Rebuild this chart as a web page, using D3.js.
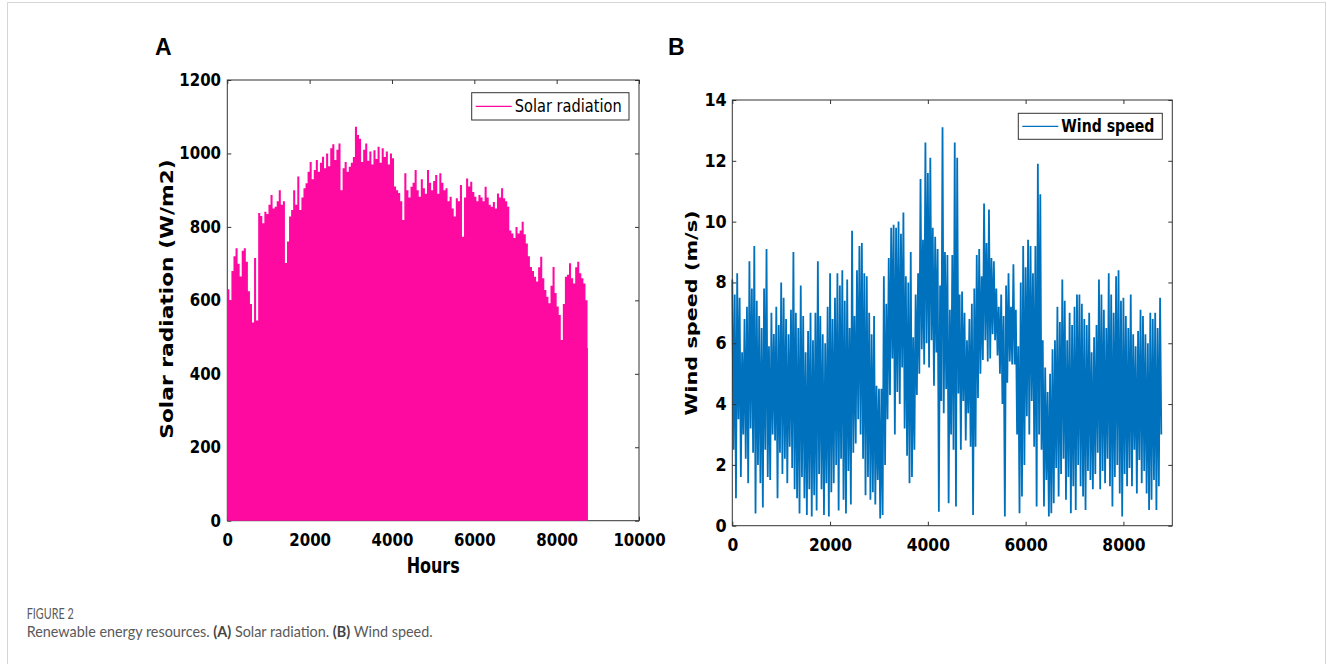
<!DOCTYPE html>
<html>
<head>
<meta charset="utf-8">
<script src="https://cdn.jsdelivr.net/npm/d3@7"></script>
<style>
    body { margin: 0; background: #fff; }
</style>
</head>
<body>
<svg id="fig" width="1327" height="664"></svg>
<script>
// hourly series, one value every 50 hours
var sampleStep = 50;
var solarEnd = 8760;

var solarValues = [
    630, 600, 680, 720, 742, 700, 665, 735, 742, 705,
    625, 590, 540, 715, 545, 838, 830, 810, 841, 835,
    860, 887, 850, 855, 870, 900, 860, 870, 702, 760,
    828, 846, 900, 860, 937, 846, 880, 905, 919, 950,
    977, 930, 955, 982, 950, 975, 991, 960, 1000, 965,
    1014, 1025, 982, 1010, 1027, 900, 960, 977, 950, 964,
    975, 990, 1073, 1050, 1040, 977, 1010, 1027, 980, 1005,
    970, 1009, 985, 1018, 975, 1014, 990, 1005, 970, 1000,
    987, 910, 900, 892, 870, 819, 946, 900, 880, 909,
    920, 955, 900, 882, 930, 905, 890, 955, 920, 900,
    925, 941, 890, 946, 920, 900, 905, 870, 882, 850,
    828, 878, 870, 914, 773, 880, 932, 910, 923, 895,
    882, 870, 887, 880, 870, 909, 880, 860, 855, 868,
    850, 891, 880, 905, 878, 870, 855, 790, 782, 770,
    800, 782, 790, 814, 780, 755, 720, 691, 680, 664,
    651, 690, 719, 660, 628, 610, 592, 640, 691, 620,
    583, 560, 492, 590, 664, 670, 701, 660, 646, 690,
    705, 674, 660, 646, 600, 470
];

// wind speed: highest and lowest reading inside each 50 hour block
var windHigh = [
    8.1, 7.6, 8.3, 7.5, 5.7, 6.8, 7.2, 8.7, 7.8, 9.2,
    7.4, 6.9, 6.5, 7.8, 9.1, 5.9, 7.0, 6.3, 7.2, 6.6,
    8.0, 7.5, 6.8, 6.3, 7.1, 9.0, 7.0, 6.5, 7.9, 6.9,
    5.7, 6.4, 7.0, 6.1, 7.0, 8.7, 6.9, 6.3, 6.0, 7.2,
    8.3, 6.8, 7.5, 8.3, 7.9, 8.4, 7.4, 8.1, 6.5, 9.7,
    6.9, 8.4, 9.2, 9.3, 8.3, 8.2, 7.0, 6.3, 6.9, 4.6,
    4.5, 4.5, 8.2, 7.3, 8.8, 9.8, 9.9, 9.8, 10.0, 9.6,
    10.3, 8.2, 8.0, 9.0, 6.2, 7.6, 8.3, 11.4, 9.4, 12.6,
    11.6, 12.1, 9.8, 9.5, 9.1, 7.9, 13.1, 9.0, 8.9, 7.1,
    8.9, 12.6, 12.1, 7.6, 7.7, 7.0, 6.1, 6.8, 7.3, 7.8,
    8.9, 9.1, 8.2, 10.6, 9.3, 10.4, 8.8, 8.7, 7.8, 7.2,
    7.6, 6.9, 7.9, 8.3, 7.2, 8.6, 7.1, 5.9, 8.0, 9.2,
    8.5, 9.4, 9.2, 8.3, 9.2, 11.9, 10.9, 6.1, 5.2, 4.4,
    5.0, 5.8, 6.1, 7.2, 6.7, 8.1, 7.4, 6.1, 7.0, 6.6,
    7.2, 7.6, 7.6, 7.3, 6.8, 6.6, 7.0, 5.7, 6.2, 6.6,
    8.1, 7.6, 7.1, 6.5, 8.3, 7.6, 7.0, 8.2, 8.4, 7.4,
    7.5, 6.9, 6.5, 7.6, 6.3, 5.9, 6.4, 7.1, 6.9, 6.3,
    6.0, 7.0, 6.8, 7.0, 6.5, 7.5
];

var windLow = [
    2.5, 0.9, 3.5, 1.6, 3.0, 2.2, 1.4, 3.2, 2.4, 0.4,
    2.0, 1.4, 0.6, 2.5, 1.6, 1.5, 3.0, 2.8, 0.9, 2.4,
    1.7, 2.2, 1.4, 2.6, 1.9, 1.2, 0.9, 0.4, 1.6, 0.9,
    0.35, 1.2, 0.3, 1.0, 0.5, 1.7, 1.2, 0.35, 1.4, 0.3,
    1.1, 1.4, 2.0, 0.5, 2.2, 0.85, 0.4, 1.8, 0.7, 2.4,
    2.7, 3.5, 3.0, 2.2, 1.0, 1.6, 0.85, 1.1, 0.7, 1.5,
    0.24, 0.35, 2.0, 3.5, 4.3, 5.5, 3.0, 4.4, 4.0, 5.2,
    3.2, 2.3, 1.4, 1.6, 2.5, 4.3, 5.0, 5.8, 5.3, 6.0,
    5.2, 6.1, 4.6, 5.7, 0.46, 4.1, 3.7, 4.5, 0.74, 3.0,
    2.5, 0.63, 4.35, 2.5, 4.1, 2.8, 3.7, 2.6, 0.35, 2.6,
    4.2, 5.0, 5.45, 6.1, 5.4, 5.5, 6.3, 6.1, 5.6, 5.0,
    4.0, 0.3, 4.7, 5.4, 5.3, 5.3, 3.0, 0.41, 0.96, 2.0,
    3.6, 3.0, 4.1, 2.6, 0.63, 3.0, 2.5, 0.63, 1.5, 0.3,
    0.41, 0.74, 1.9, 0.96, 1.7, 2.2, 0.85, 1.6, 0.41, 1.3,
    0.52, 2.0, 1.3, 0.96, 0.52, 1.8, 1.5, 1.2, 1.7, 2.4,
    1.2, 1.8, 1.4, 2.2, 1.3, 0.63, 1.6, 2.0, 1.06, 0.3,
    1.7, 1.3, 1.9, 1.3, 2.5, 1.06, 2.16, 1.4, 1.8, 1.06,
    0.52, 0.85, 1.5, 0.52, 1.3, 3.0
];

var solarTicksX = [0, 2000, 4000, 6000, 8000, 10000];
var solarTicksY = [0, 200, 400, 600, 800, 1000, 1200];
var windTicksX = [0, 2000, 4000, 6000, 8000];
var windTicksY = [0, 2, 4, 6, 8, 10, 12, 14];

var pink = "#ff0aa0";
var blue = "#0072bd";
var axisColor = "#333333";
var font = "DejaVu Sans";

var svg = d3.select("#fig");

svg.append("rect")
    .attr("width", 1327)
    .attr("height", 664)
    .attr("fill", "#fff");

// light frame round the whole figure
svg.append("rect")
    .attr("x", 7.5)
    .attr("y", 2.5)
    .attr("width", 1318)
    .attr("height", 700)
    .attr("fill", "none")
    .attr("stroke", "#d6d6d6");

function drawAxes(g, x, y, xTicks, yTicks, o) {
    var x0 = x.range()[0], x1 = x.range()[1];
    var y0 = y.range()[0], y1 = y.range()[1];

    var bottom = g.append("g")
        .attr("transform", "translate(0," + y0 + ")")
        .call(d3.axisBottom(x).tickValues(xTicks).tickSizeInner(-4).tickSizeOuter(0)
            .tickPadding(o.xPad).tickFormat(d3.format("d")));
    var left = g.append("g")
        .attr("transform", "translate(" + x0 + ",0)")
        .call(d3.axisLeft(y).tickValues(yTicks).tickSizeInner(-4).tickSizeOuter(0)
            .tickPadding(o.yPad).tickFormat(d3.format("d")));
    g.append("g")
        .attr("transform", "translate(0," + y1 + ")")
        .call(d3.axisTop(x).tickValues(xTicks).tickSizeInner(-4).tickSizeOuter(0).tickFormat(""));
    g.append("g")
        .attr("transform", "translate(" + x1 + ",0)")
        .call(d3.axisRight(y).tickValues(yTicks).tickSizeInner(-4).tickSizeOuter(0).tickFormat(""));

    g.selectAll(".domain").remove();
    g.selectAll(".tick line").attr("stroke", axisColor);

    bottom.selectAll("text")
        .attr("font-family", font)
        .attr("font-weight", "bold")
        .attr("font-size", o.xSize)
        .attr("fill", "#000")
        .attr("y", o.xPad / o.xScale)
        .attr("transform", "scale(1," + o.xScale + ")");
    left.selectAll("text")
        .attr("font-family", font)
        .attr("font-weight", "bold")
        .attr("font-size", o.ySize)
        .attr("fill", "#000")
        .attr("transform", "scale(1," + o.yScale + ")");

    g.append("rect")
        .attr("class", "box")
        .attr("x", x0)
        .attr("y", y1)
        .attr("width", x1 - x0)
        .attr("height", y0 - y1)
        .attr("fill", "none")
        .attr("stroke", axisColor)
        .attr("stroke-width", 1);
}

function axisTitle(g, txt, px, py, size, stretch, rotate) {
    g.append("text")
        .attr("transform", "translate(" + px + "," + py + ")" +
            (rotate ? " rotate(-90) scale(" + stretch + ",1)" : " scale(1," + stretch + ")"))
        .attr("text-anchor", "middle")
        .attr("font-family", font)
        .attr("font-weight", "bold")
        .attr("font-size", size)
        .attr("fill", "#000")
        .text(txt);
}

function legend(g, bx, by, bw, bh, color, txt, size, weight, stretch) {
    g.append("rect")
        .attr("x", bx).attr("y", by)
        .attr("width", bw).attr("height", bh)
        .attr("fill", "#fff")
        .attr("stroke", axisColor);
    g.append("line")
        .attr("x1", bx + 4).attr("x2", bx + 40)
        .attr("y1", by + bh / 2).attr("y2", by + bh / 2)
        .attr("stroke", color)
        .attr("stroke-width", 1.3);
    g.append("text")
        .attr("transform", "translate(" + (bx + 43) + "," + (by + bh / 2 + 6) + ") scale(1," + stretch + ")")
        .attr("font-family", font)
        .attr("font-weight", weight)
        .attr("font-size", size)
        .attr("fill", "#000")
        .text(txt);
}

// ---------- panel A : solar radiation ----------
var gA = svg.append("g");
var xA = d3.scaleLinear().domain([0, 10000]).range([227.3, 639]);
var yA = d3.scaleLinear().domain([0, 1200]).range([520.7, 80]);

drawAxes(gA, xA, yA, solarTicksX, solarTicksY,
    {xPad: 12, xSize: 15, xScale: 1.22, yPad: 6.3, ySize: 15, yScale: 1.12});

var solarPts = solarValues.map(function (v, i) {
    return [i * sampleStep, v];
});
solarPts.push([solarEnd, solarValues[solarValues.length - 1]]);

gA.append("path")
    .datum(solarPts)
    .attr("fill", pink)
    .attr("stroke", "none")
    .attr("d", d3.area()
        .curve(d3.curveStepAfter)
        .x(function (d) { return xA(d[0]); })
        .y0(yA(0))
        .y1(function (d) { return yA(d[1]); }));

axisTitle(gA, "Solar radiation (W/m2)", 173.3, 299, 17.4, 1.25, true);
axisTitle(gA, "Hours", 433.2, 573.3, 16, 1.27, false);
legend(gA, 471.7, 92.7, 157.3, 27.3, pink, "Solar radiation", 14.6, "normal", 1.25);

gA.append("text")
    .attr("x", 155).attr("y", 55)
    .attr("font-family", "Liberation Sans")
    .attr("font-weight", "bold")
    .attr("font-size", 23)
    .text("A");

// ---------- panel B : wind speed ----------
var gB = svg.append("g");
var xB = d3.scaleLinear().domain([0, 9000]).range([732.3, 1172.3]);
var yB = d3.scaleLinear().domain([0, 14]).range([525.7, 100]);

var windPts = [];
windHigh.forEach(function (v, i) {
    windPts.push([i * sampleStep, v]);
    windPts.push([i * sampleStep + sampleStep / 2, windLow[i]]);
});

gB.append("path")
    .datum(windPts)
    .attr("fill", "none")
    .attr("stroke", blue)
    .attr("stroke-width", 1.8)
    .attr("stroke-linejoin", "bevel")
    .attr("d", d3.line()
        .x(function (d) { return xB(d[0]); })
        .y(function (d) { return yB(d[1]); }));

drawAxes(gB, xB, yB, windTicksX, windTicksY,
    {xPad: 12.6, xSize: 15.5, xScale: 1.15, yPad: 5.6, ySize: 16, yScale: 1.08});

axisTitle(gB, "Wind speed (m/s)", 696.7, 313, 16, 1.3, true);
legend(gB, 1018.3, 113.3, 144, 26, blue, "Wind speed", 14.1, "bold", 1.2);

gB.append("text")
    .attr("x", 668).attr("y", 55)
    .attr("font-family", "Liberation Sans")
    .attr("font-weight", "bold")
    .attr("font-size", 23)
    .text("B");

// ---------- caption ----------
// the caption face is narrow, so fit each line to its width by a horizontal scale
function fitLine(t, px, py, w) {
    var natural = t.node().getComputedTextLength();
    t.attr("transform", "translate(" + px + "," + py + ") scale(" + (w / natural) + ",1)");
}

var fig = svg.append("text")
    .attr("x", 0).attr("y", 0)
    .attr("font-family", "Lato")
    .attr("font-size", 15.5)
    .attr("fill", "#5a5a5a")
    .text("FIGURE 2");
fitLine(fig, 26.7, 618.5, 47);

var cap = svg.append("text")
    .attr("x", 0).attr("y", 0)
    .attr("font-family", "Lato")
    .attr("font-size", 15)
    .attr("fill", "#5a5a5a");
cap.append("tspan").text("Renewable energy resources. ");
cap.append("tspan").attr("font-weight", "bold").attr("fill", "#444").text("(A)");
cap.append("tspan").text(" Solar radiation. ");
cap.append("tspan").attr("font-weight", "bold").attr("fill", "#444").text("(B)");
cap.append("tspan").text(" Wind speed.");
fitLine(cap, 26.7, 636.5, 406);
</script>
</body>
</html>
